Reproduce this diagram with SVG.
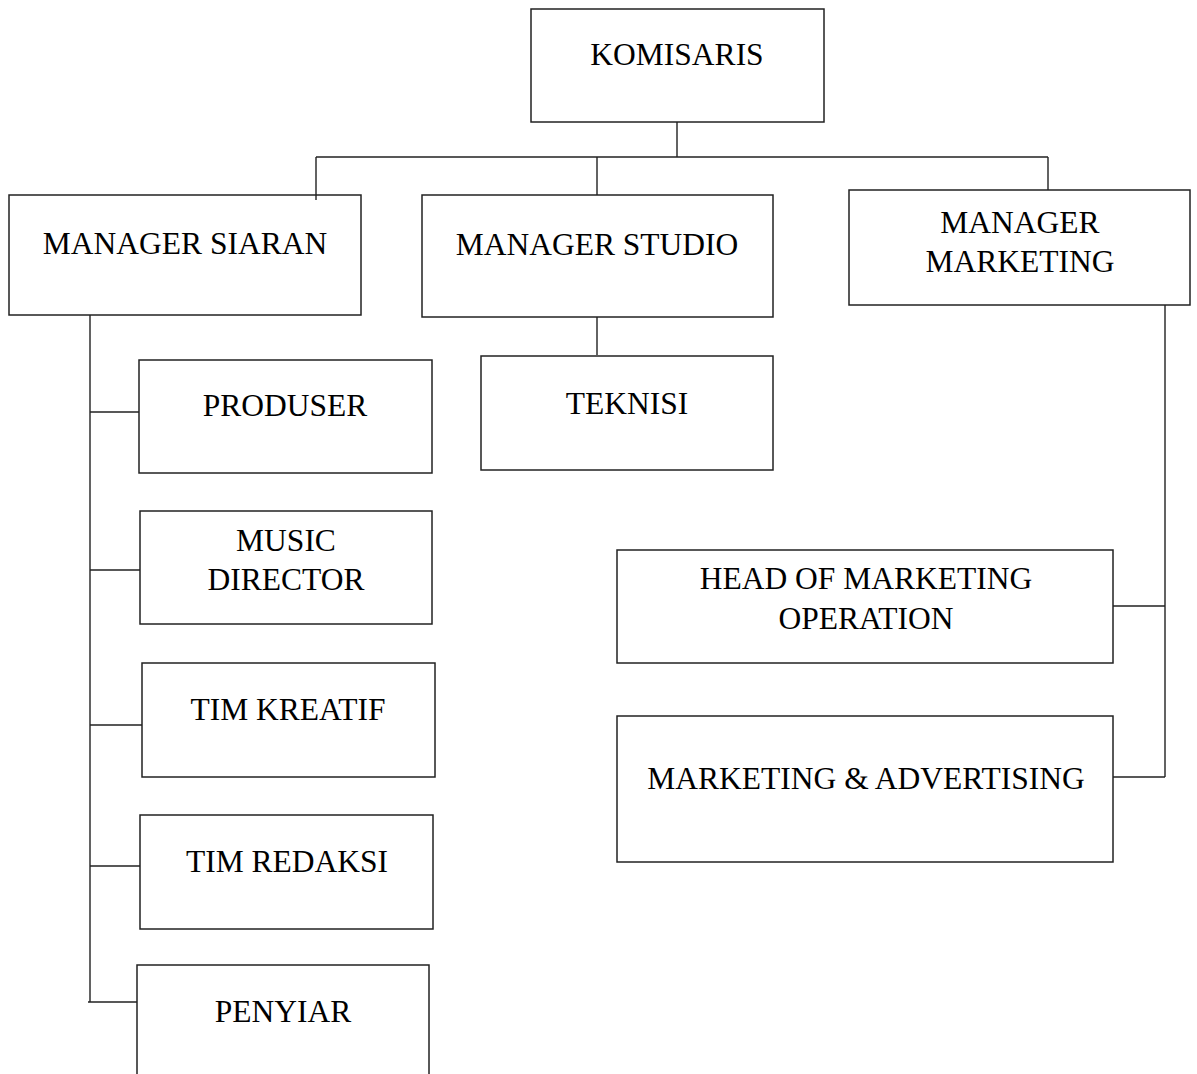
<svg xmlns="http://www.w3.org/2000/svg" width="1197" height="1074" viewBox="0 0 1197 1074">
<style>
.box{fill:#fff;stroke:#222;stroke-width:1.5}
.lbl{font-family:"Liberation Serif","Times New Roman",serif;font-size:31.5px;fill:#000;text-anchor:middle}
.con{fill:none;stroke:#222;stroke-width:1.4}
</style>
<rect width="1197" height="1074" fill="#fff"/>
<g id="komisaris"><rect class="box" x="531" y="9" width="293" height="113"/><text class="lbl" x="677" y="65">KOMISARIS</text></g>
<g id="manager-siaran"><rect class="box" x="9" y="195" width="352" height="120"/><text class="lbl" x="185" y="254">MANAGER SIARAN</text></g>
<g id="manager-studio"><rect class="box" x="422" y="195" width="351" height="122"/><text class="lbl" x="597" y="255">MANAGER STUDIO</text></g>
<g id="manager-marketing"><rect class="box" x="849" y="190" width="341" height="115"/><text class="lbl" x="1020" y="233">MANAGER</text><text class="lbl" x="1020" y="272">MARKETING</text></g>
<g id="produser"><rect class="box" x="139" y="360" width="293" height="113"/><text class="lbl" x="285" y="416">PRODUSER</text></g>
<g id="music-director"><rect class="box" x="140" y="511" width="292" height="113"/><text class="lbl" x="286" y="551">MUSIC</text><text class="lbl" x="286" y="590">DIRECTOR</text></g>
<g id="tim-kreatif"><rect class="box" x="142" y="663" width="293" height="114"/><text class="lbl" x="288" y="720">TIM KREATIF</text></g>
<g id="tim-redaksi"><rect class="box" x="140" y="815" width="293" height="114"/><text class="lbl" x="287" y="872">TIM REDAKSI</text></g>
<g id="penyiar"><rect class="box" x="137" y="965" width="292" height="120"/><text class="lbl" x="283" y="1022">PENYIAR</text></g>
<g id="teknisi"><rect class="box" x="481" y="356" width="292" height="114"/><text class="lbl" x="627" y="414">TEKNISI</text></g>
<g id="head-marketing"><rect class="box" x="617" y="550" width="496" height="113"/><text class="lbl" x="866" y="589">HEAD OF MARKETING</text><text class="lbl" x="866" y="629">OPERATION</text></g>
<g id="marketing-advertising"><rect class="box" x="617" y="716" width="496" height="146"/><text class="lbl" x="866" y="789">MARKETING &amp; ADVERTISING</text></g>
<g id="connectors">
<path class="con" d="M677,122 V157 M316,157 H1048 M316,157 V200 M597,157 V195 M1048,157 V190"/>
<path class="con" d="M90,315 V1002 M90,412 H139 M90,570 H140 M90,725 H142 M90,866 H140 M88,1002 H137"/>
<path class="con" d="M597,317 V355"/>
<path class="con" d="M1165,305 V777 M1113,606 H1165 M1113,777 H1165"/>
</g>
</svg>
